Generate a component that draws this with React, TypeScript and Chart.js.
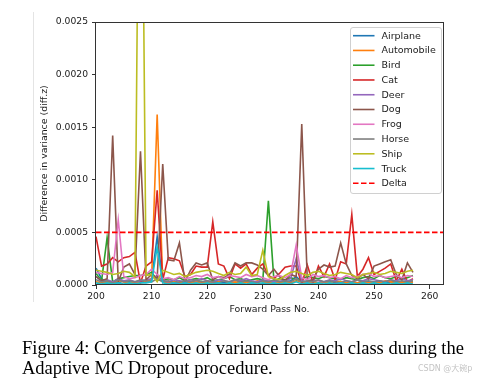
import React, { useEffect, useRef } from "react";
import { Chart, registerables } from "chart.js";

Chart.register(...registerables);

// ---------- data ----------
const passes: number[] = Array.from({ length: 58 }, (_, i) => 200 + i); // forward pass 200..257

const classNames = ["Airplane", "Automobile", "Bird", "Cat", "Deer", "Dog", "Frog", "Horse", "Ship", "Truck"];
const classColors = ["#1f77b4", "#ff7f0e", "#2ca02c", "#d62728", "#9467bd", "#8c564b", "#e377c2", "#7f7f7f", "#bcbd22", "#17becf"];

const airplane = [
  1.6e-4, 0.6e-4, 0.2e-4, 0.3e-4, 0.2e-4, 0.4e-4, 0.3e-4, 0.2e-4, 0.3e-4, 0.4e-4,
  0.5e-4, 4.6e-4, 0.3e-4, 0.2e-4, 0.4e-4, 0.2e-4, 0.3e-4, 0.2e-4, 0.4e-4, 0.3e-4,
  0.2e-4, 0.4e-4, 0.3e-4, 0.2e-4, 0.3e-4, 0.2e-4, 0.4e-4, 0.3e-4, 0.2e-4, 0.3e-4,
  0.4e-4, 0.2e-4, 0.3e-4, 0.2e-4, 0.3e-4, 0.4e-4, 0.8e-4, 0.3e-4, 0.2e-4, 0.3e-4,
  0.2e-4, 0.3e-4, 0.4e-4, 0.2e-4, 0.3e-4, 0.2e-4, 0.3e-4, 0.2e-4, 0.4e-4, 0.3e-4,
  0.2e-4, 0.3e-4, 0.2e-4, 0.3e-4, 0.4e-4, 0.2e-4, 0.3e-4, 0.3e-4,
];
const automobile = [
  0.3e-4, 0.2e-4, 0.3e-4, 0.2e-4, 0.4e-4, 0.3e-4, 0.2e-4, 0.3e-4, 0.2e-4, 0.3e-4,
  0.6e-4, 16.2e-4, 0.3e-4, 0.2e-4, 0.3e-4, 0.2e-4, 0.4e-4, 0.2e-4, 0.3e-4, 0.2e-4,
  0.3e-4, 0.2e-4, 0.3e-4, 0.4e-4, 0.2e-4, 0.3e-4, 0.2e-4, 0.3e-4, 0.2e-4, 0.4e-4,
  0.3e-4, 0.2e-4, 0.3e-4, 0.2e-4, 0.3e-4, 0.2e-4, 0.4e-4, 0.3e-4, 0.2e-4, 0.3e-4,
  0.2e-4, 0.3e-4, 0.2e-4, 0.4e-4, 0.3e-4, 0.2e-4, 0.3e-4, 0.2e-4, 0.3e-4, 0.2e-4,
  0.3e-4, 0.2e-4, 0.4e-4, 0.3e-4, 0.2e-4, 0.3e-4, 0.2e-4, 0.3e-4,
];
const bird = [
  1.1e-4, 0.4e-4, 4.5e-4, 0.3e-4, 0.6e-4, 0.7e-4, 0.8e-4, 0.9e-4, 0.9e-4, 1.0e-4,
  1.2e-4, 0.5e-4, 0.4e-4, 0.6e-4, 0.5e-4, 0.7e-4, 0.4e-4, 0.5e-4, 0.6e-4, 0.5e-4,
  0.7e-4, 0.4e-4, 0.5e-4, 0.6e-4, 0.8e-4, 0.5e-4, 0.6e-4, 0.4e-4, 0.5e-4, 0.6e-4,
  0.5e-4, 8.0e-4, 0.4e-4, 0.6e-4, 0.5e-4, 0.7e-4, 0.5e-4, 0.6e-4, 0.8e-4, 0.7e-4,
  0.6e-4, 0.8e-4, 0.7e-4, 0.6e-4, 0.5e-4, 0.7e-4, 0.6e-4, 0.5e-4, 0.7e-4, 0.8e-4,
  0.6e-4, 0.9e-4, 0.7e-4, 0.6e-4, 0.8e-4, 0.6e-4, 0.7e-4, 0.9e-4,
];
const cat = [
  4.6e-4, 1.8e-4, 2.0e-4, 2.6e-4, 2.2e-4, 2.6e-4, 2.7e-4, 3.1e-4, 0.2e-4, 1.8e-4,
  2.2e-4, 9.0e-4, 0.5e-4, 2.6e-4, 2.5e-4, 2.3e-4, 0.8e-4, 1.0e-4, 1.8e-4, 1.7e-4,
  1.7e-4, 6.0e-4, 2.0e-4, 1.8e-4, 0.6e-4, 2.0e-4, 1.6e-4, 2.0e-4, 1.0e-4, 1.6e-4,
  2.0e-4, 0.9e-4, 0.6e-4, 1.1e-4, 1.7e-4, 1.8e-4, 1.8e-4, 0.1e-4, 1.9e-4, 0.2e-4,
  1.8e-4, 0.8e-4, 2.0e-4, 0.5e-4, 2.2e-4, 2.0e-4, 6.7e-4, 0.8e-4, 1.5e-4, 2.6e-4,
  1.0e-4, 1.3e-4, 1.6e-4, 2.0e-4, 0.4e-4, 1.5e-4, 0.3e-4, 0.6e-4,
];
const deer = [
  0.8e-4, 0.4e-4, 0.5e-4, 0.3e-4, 0.6e-4, 0.4e-4, 0.5e-4, 0.3e-4, 0.4e-4, 0.5e-4,
  0.6e-4, 0.9e-4, 0.4e-4, 0.3e-4, 0.5e-4, 0.4e-4, 0.3e-4, 0.5e-4, 0.4e-4, 0.6e-4,
  0.4e-4, 0.3e-4, 0.5e-4, 0.4e-4, 0.3e-4, 0.5e-4, 0.4e-4, 0.6e-4, 0.4e-4, 0.3e-4,
  0.5e-4, 0.4e-4, 0.3e-4, 0.5e-4, 0.4e-4, 0.6e-4, 2.5e-4, 0.4e-4, 0.3e-4, 0.5e-4,
  0.4e-4, 0.3e-4, 0.5e-4, 0.4e-4, 0.6e-4, 0.4e-4, 0.3e-4, 0.5e-4, 0.4e-4, 0.6e-4,
  0.5e-4, 0.4e-4, 0.3e-4, 0.5e-4, 0.4e-4, 0.6e-4, 0.4e-4, 0.5e-4,
];
const dog = [
  0.8e-4, 0.4e-4, 0.6e-4, 14.2e-4, 0.3e-4, 1.7e-4, 2.0e-4, 1.0e-4, 12.7e-4, 0.5e-4,
  1.0e-4, 0.6e-4, 11.5e-4, 2.4e-4, 2.3e-4, 4.0e-4, 0.3e-4, 1.4e-4, 2.1e-4, 1.9e-4,
  2.1e-4, 0.5e-4, 0.8e-4, 0.7e-4, 1.0e-4, 2.1e-4, 1.8e-4, 2.1e-4, 2.1e-4, 1.9e-4,
  1.5e-4, 0.9e-4, 1.5e-4, 0.8e-4, 0.4e-4, 1.0e-4, 0.8e-4, 15.3e-4, 0.4e-4, 0.5e-4,
  1.5e-4, 1.9e-4, 1.7e-4, 1.8e-4, 4.0e-4, 2.0e-4, 0.9e-4, 0.6e-4, 1.0e-4, 0.6e-4,
  1.8e-4, 2.0e-4, 2.2e-4, 2.4e-4, 1.0e-4, 0.5e-4, 2.1e-4, 1.2e-4,
];
const frog = [
  1.2e-4, 1.1e-4, 1.0e-4, 1.2e-4, 6.2e-4, 0.8e-4, 0.6e-4, 0.7e-4, 0.9e-4, 1.0e-4,
  1.5e-4, 1.0e-4, 0.6e-4, 0.7e-4, 0.5e-4, 0.8e-4, 0.6e-4, 0.7e-4, 0.9e-4, 0.8e-4,
  1.0e-4, 0.7e-4, 0.8e-4, 0.6e-4, 0.9e-4, 0.8e-4, 0.7e-4, 1.0e-4, 0.8e-4, 0.9e-4,
  0.7e-4, 0.5e-4, 0.8e-4, 0.9e-4, 0.7e-4, 1.0e-4, 3.8e-4, 0.7e-4, 0.5e-4, 1.0e-4,
  0.8e-4, 0.9e-4, 0.7e-4, 0.8e-4, 0.6e-4, 0.9e-4, 0.7e-4, 0.8e-4, 1.0e-4, 1.1e-4,
  0.8e-4, 0.9e-4, 0.7e-4, 0.8e-4, 0.9e-4, 0.7e-4, 0.9e-4, 0.8e-4,
];
const horse = [
  0.5e-4, 0.3e-4, 0.4e-4, 0.2e-4, 0.5e-4, 0.3e-4, 0.4e-4, 0.3e-4, 0.5e-4, 0.4e-4,
  0.3e-4, 0.6e-4, 0.3e-4, 0.4e-4, 0.2e-4, 0.3e-4, 0.4e-4, 0.3e-4, 0.5e-4, 0.3e-4,
  0.4e-4, 0.3e-4, 0.2e-4, 0.4e-4, 0.3e-4, 0.5e-4, 0.3e-4, 0.4e-4, 0.3e-4, 0.2e-4,
  0.4e-4, 0.3e-4, 0.5e-4, 0.3e-4, 0.4e-4, 0.3e-4, 0.6e-4, 0.3e-4, 0.4e-4, 0.3e-4,
  0.5e-4, 0.3e-4, 0.4e-4, 0.3e-4, 0.2e-4, 0.4e-4, 0.3e-4, 0.5e-4, 0.3e-4, 0.4e-4,
  0.3e-4, 0.4e-4, 0.3e-4, 0.5e-4, 0.3e-4, 0.4e-4, 0.3e-4, 0.4e-4,
];
const ship = [
  1.4e-4, 1.3e-4, 1.2e-4, 1.0e-4, 1.1e-4, 1.3e-4, 1.2e-4, 0.8e-4, 60.0e-4, 0.9e-4,
  1.0e-4, 0.3e-4, 1.4e-4, 1.2e-4, 1.0e-4, 1.1e-4, 0.8e-4, 1.0e-4, 1.2e-4, 1.3e-4,
  1.4e-4, 1.3e-4, 1.1e-4, 0.9e-4, 1.2e-4, 1.0e-4, 1.1e-4, 1.7e-4, 0.9e-4, 1.0e-4,
  3.3e-4, 0.8e-4, 0.6e-4, 0.5e-4, 0.9e-4, 1.2e-4, 1.3e-4, 1.1e-4, 0.9e-4, 1.2e-4,
  1.3e-4, 1.1e-4, 0.9e-4, 1.0e-4, 1.2e-4, 1.1e-4, 1.0e-4, 0.7e-4, 1.0e-4, 1.1e-4,
  1.2e-4, 1.0e-4, 1.1e-4, 1.3e-4, 1.2e-4, 1.1e-4, 1.3e-4, 1.4e-4,
];
const truck = [
  0.2e-4, 0.1e-4, 0.2e-4, 0.1e-4, 0.2e-4, 0.1e-4, 0.2e-4, 0.1e-4, 0.2e-4, 0.2e-4,
  0.3e-4, 3.6e-4, 0.2e-4, 0.1e-4, 0.2e-4, 0.1e-4, 0.2e-4, 0.1e-4, 0.2e-4, 0.1e-4,
  0.2e-4, 0.1e-4, 0.2e-4, 0.1e-4, 0.2e-4, 0.1e-4, 0.2e-4, 0.1e-4, 0.2e-4, 0.1e-4,
  0.2e-4, 0.1e-4, 0.2e-4, 0.1e-4, 0.2e-4, 0.1e-4, 0.3e-4, 0.1e-4, 0.2e-4, 0.1e-4,
  0.2e-4, 0.1e-4, 0.2e-4, 0.1e-4, 0.2e-4, 0.1e-4, 0.2e-4, 0.1e-4, 0.2e-4, 0.1e-4,
  0.2e-4, 0.1e-4, 0.2e-4, 0.1e-4, 0.2e-4, 0.1e-4, 0.2e-4, 0.1e-4,
];
const classSeries = [airplane, automobile, bird, cat, deer, dog, frog, horse, ship, truck];

const deltaLabel = "Delta";
const deltaValue = 0.0005;
const deltaColor = "#ff0000";

const xMin = 200;
const xMax = 262.4;
const yMin = 0;
const yMax = 0.0025;
const xTickValues = [200, 210, 220, 230, 240, 250, 260];
const yTickValues = [0, 0.0005, 0.001, 0.0015, 0.002, 0.0025];

const xTitle = "Forward Pass No.";
const yTitle = "Difference in variance (diff.z)";
const captionLine1 = "Figure 4: Convergence of variance for each class during the";
const captionLine2 = "Adaptive MC Dropout procedure.";
const watermark = "CSDN @大碗p";

// ---------- plugins ----------
const FONT = "'DejaVu Sans', sans-serif";
const TEXT_COLOR = "#1a1a1a";
const TICK_SIZE = 9.2;
const TITLE_SIZE = 9.4;
const LEGEND_SIZE = 9.5;

const framePlugin = {
  id: "frame",
  afterDatasetsDraw(chart: any) {
    const { ctx, chartArea } = chart;
    ctx.save();
    ctx.strokeStyle = "#333333";
    ctx.lineWidth = 1;
    ctx.strokeRect(
      Math.round(chartArea.left) - 0.5,
      Math.round(chartArea.top) + 0.5,
      Math.round(chartArea.right - chartArea.left) + 1,
      Math.round(chartArea.bottom - chartArea.top) - 1
    );
    ctx.restore();
  },
};

const legendPlugin = {
  id: "mplLegend",
  afterDraw(chart: any) {
    const { ctx } = chart;
    const datasets = chart.data.datasets;
    const boxL = 350.5, boxT = 27.5, boxR = 441.5, boxB = 193.5, r = 2.5;
    ctx.save();
    ctx.beginPath();
    ctx.moveTo(boxL + r, boxT);
    ctx.lineTo(boxR - r, boxT);
    ctx.quadraticCurveTo(boxR, boxT, boxR, boxT + r);
    ctx.lineTo(boxR, boxB - r);
    ctx.quadraticCurveTo(boxR, boxB, boxR - r, boxB);
    ctx.lineTo(boxL + r, boxB);
    ctx.quadraticCurveTo(boxL, boxB, boxL, boxB - r);
    ctx.lineTo(boxL, boxT + r);
    ctx.quadraticCurveTo(boxL, boxT, boxL + r, boxT);
    ctx.closePath();
    ctx.fillStyle = "rgba(255,255,255,0.8)";
    ctx.fill();
    ctx.strokeStyle = "#d0d0d0";
    ctx.lineWidth = 1;
    ctx.stroke();

    ctx.font = `${LEGEND_SIZE}px ${FONT}`;
    ctx.textBaseline = "middle";
    ctx.textAlign = "left";
    datasets.forEach((ds: any, i: number) => {
      const y = 35.7 + i * 14.76;
      ctx.beginPath();
      ctx.setLineDash(ds.borderDash || []);
      ctx.strokeStyle = ds.borderColor;
      ctx.lineWidth = 1.6;
      ctx.moveTo(353, y);
      ctx.lineTo(374.5, y);
      ctx.stroke();
      ctx.setLineDash([]);
      ctx.fillStyle = TEXT_COLOR;
      ctx.fillText(ds.label, 381.5, y + 0.5);
    });
    ctx.restore();
  },
};

export default function App() {
  const canvasRef = useRef<HTMLCanvasElement | null>(null);

  useEffect(() => {
    if (!canvasRef.current) return;
    Chart.defaults.font.family = FONT;

    const n = classNames.length;
    const datasets: any[] = classNames.map((name, i) => ({
      label: name,
      data: passes.map((p, j) => ({ x: p, y: classSeries[i][j] })),
      borderColor: classColors[i],
      backgroundColor: classColors[i],
      borderWidth: 1.6,
      pointRadius: 0,
      tension: 0,
      fill: false,
      order: n - i + 1,
    }));
    datasets.push({
      label: deltaLabel,
      data: [
        { x: xMin, y: deltaValue },
        { x: xMax, y: deltaValue },
      ],
      borderColor: deltaColor,
      backgroundColor: deltaColor,
      borderWidth: 1.6,
      borderDash: [5.5, 2.5],
      pointRadius: 0,
      tension: 0,
      fill: false,
      order: 0,
    });

    const chart = new Chart(canvasRef.current, {
      type: "line",
      data: { datasets },
      options: {
        responsive: false,
        animation: false,
        devicePixelRatio: 1,
        layout: { padding: { left: 0, right: 42, top: 22, bottom: 69 } },
        plugins: {
          legend: { display: false },
          tooltip: { enabled: false },
          title: { display: false },
        },
        scales: {
          x: {
            type: "linear",
            min: xMin,
            max: xMax,
            afterBuildTicks: (scale: any) => {
              scale.ticks = xTickValues.map((v) => ({ value: v }));
            },
            afterFit: (scale: any) => {
              scale.height = 30;
            },
            ticks: {
              autoSkip: false,
              maxRotation: 0,
              padding: 2,
              color: TEXT_COLOR,
              font: { size: TICK_SIZE, family: FONT },
              callback: (v: any) => String(v),
            },
            grid: {
              display: true,
              drawOnChartArea: false,
              drawTicks: true,
              tickLength: 4,
              color: "#333333",
              tickColor: "#333333",
            },
            border: { display: false },
            title: {
              display: true,
              text: xTitle,
              color: TEXT_COLOR,
              font: { size: TITLE_SIZE, family: FONT },
              padding: { top: 0, bottom: 0 },
            },
          },
          y: {
            type: "linear",
            min: yMin,
            max: yMax,
            afterBuildTicks: (scale: any) => {
              scale.ticks = yTickValues.map((v) => ({ value: v }));
            },
            afterFit: (scale: any) => {
              scale.width = 96;
            },
            ticks: {
              autoSkip: false,
              padding: 4,
              color: TEXT_COLOR,
              font: { size: TICK_SIZE, family: FONT },
              callback: (v: any) => Number(v).toFixed(4),
            },
            grid: {
              display: true,
              drawOnChartArea: false,
              drawTicks: true,
              tickLength: 4,
              color: "#333333",
              tickColor: "#333333",
            },
            border: { display: false },
            title: {
              display: true,
              text: yTitle,
              color: TEXT_COLOR,
              font: { size: TITLE_SIZE, family: FONT },
              padding: { top: 39.4, bottom: 0 },
            },
          },
        },
      },
      plugins: [framePlugin, legendPlugin],
    });

    return () => chart.destroy();
  }, []);

  return (
    <div
      style={{
        position: "absolute",
        left: 0,
        top: 0,
        width: 485,
        height: 384,
        background: "#ffffff",
        overflow: "hidden",
      }}
    >
      <div
        style={{
          position: "absolute",
          left: 33,
          top: 12,
          width: 0,
          height: 290,
          borderLeft: "1px solid #e4e4e4",
        }}
      />
      <canvas
        ref={canvasRef}
        width={485}
        height={384}
        style={{ position: "absolute", left: 0, top: 0, width: 485, height: 384 }}
      />
      <div
        style={{
          position: "absolute",
          left: 22,
          top: 338,
          fontFamily: "'Liberation Serif', 'Times New Roman', serif",
          fontSize: 18.5,
          lineHeight: "20px",
          color: "#000000",
          whiteSpace: "nowrap",
        }}
      >
        {captionLine1}
        <br />
        {captionLine2}
      </div>
      <div
        style={{
          position: "absolute",
          left: 418,
          top: 363,
          fontFamily: "'DejaVu Sans', 'Noto Sans CJK SC', sans-serif",
          fontSize: 8,
          lineHeight: "12px",
          color: "#c4c4c4",
          whiteSpace: "nowrap",
        }}
      >
        {watermark}
      </div>
    </div>
  );
}
